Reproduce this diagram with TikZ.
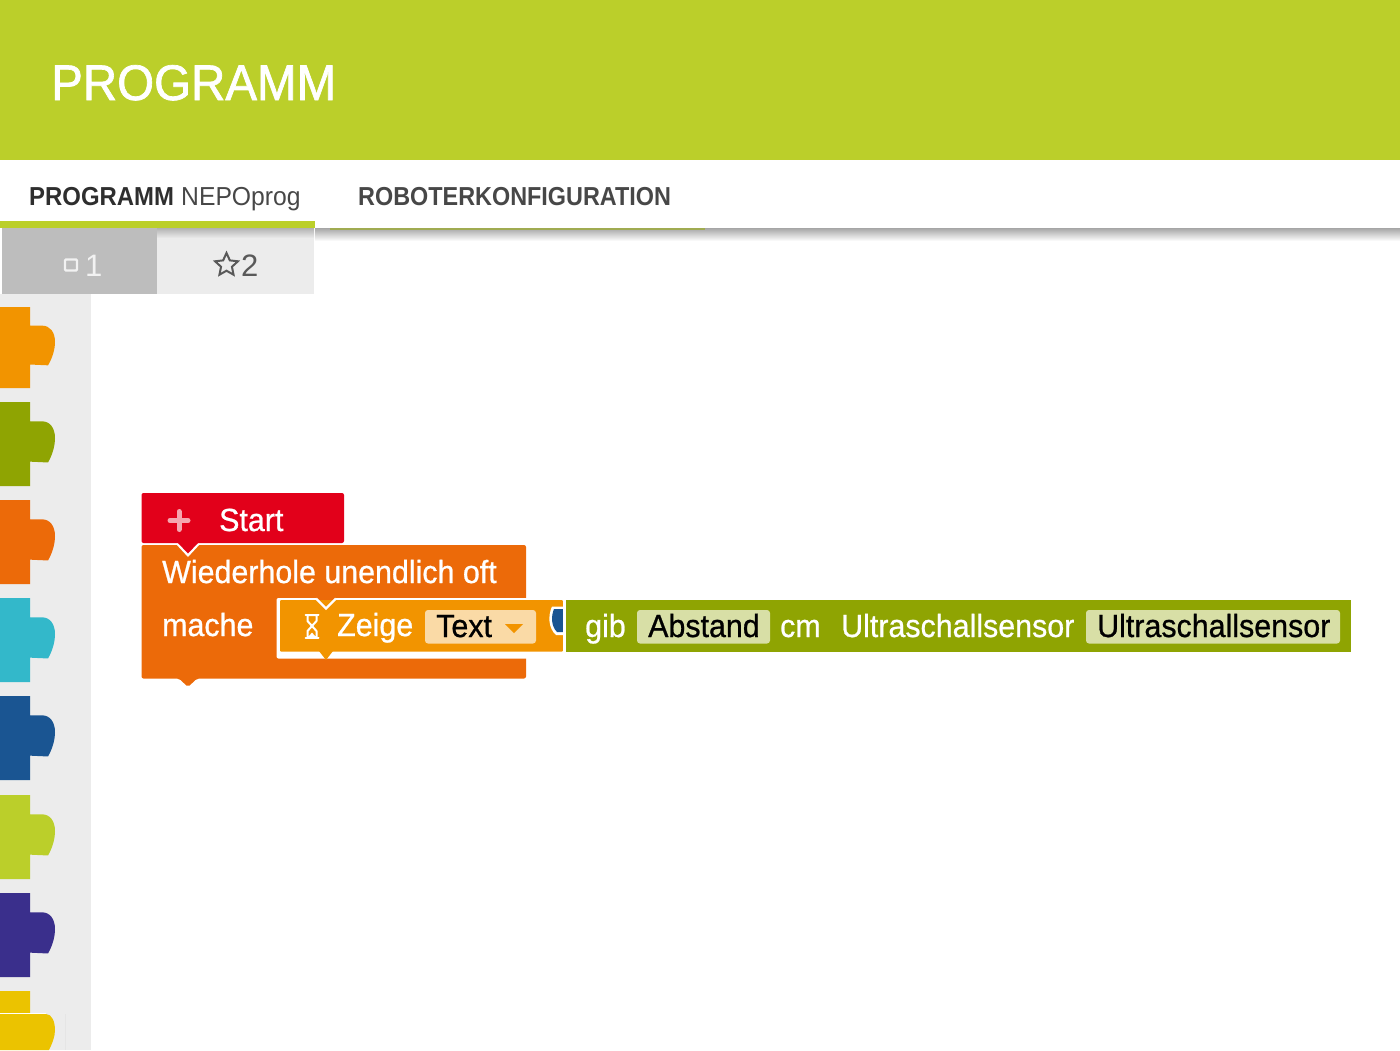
\documentclass[tikz,border=0pt]{standalone}
\usepackage{fontspec}
\setmainfont{Liberation Sans}
\newfontfamily\mediumfont[FakeBold=1.4]{Liberation Sans}
\newfontfamily\blockfont[FakeBold=0.8]{Liberation Sans}
\usetikzlibrary{shapes.geometric}

\definecolor{limegreen}{HTML}{BBCF2A}
\definecolor{blockred}{HTML}{E2001A}
\definecolor{blockorange}{HTML}{EC6A09}
\definecolor{blockamber}{HTML}{F29400}
\definecolor{blockolive}{HTML}{8FA402}
\definecolor{blockcyan}{HTML}{33B8CA}
\definecolor{blockblue}{HTML}{1A5592}
\definecolor{blockpurple}{HTML}{3A2F8C}
\definecolor{blockyellow}{HTML}{EBC300}
\definecolor{sidegrey}{HTML}{ECECEC}

\tikzset{
  label/.style={anchor=base west,inner sep=0pt,text=white,xscale=0.95,font=\blockfont\fontsize{32}{32}\selectfont},
  field/.style={fill=#1,rounded corners=3pt,draw=none},
  tabtext/.style={anchor=base west,inner sep=0pt,font=\fontsize{26}{26}\selectfont},
}

\begin{document}
\begin{tikzpicture}[x=1pt,y=-1pt]
  \useasboundingbox (0,0) rectangle (1400,1050);

  % Header
  \fill[limegreen] (0,0) rectangle (1400,160);
  \node[anchor=base west,inner sep=0pt,text=white,xscale=0.95,font=\mediumfont\fontsize{50}{50}\selectfont] (title) at (51,100) {PROGRAMM};

  % Tabs
  \shade[top color=black!35,bottom color=white] (315,228) rectangle (1400,241);
  \fill[limegreen!55!gray] (330,228) rectangle (705,229.5);
  \fill[limegreen] (0,221) rectangle (315,228);
  \node[tabtext,text=black!82,xscale=0.92] (tabprog) at (29,205.5) {\textbf{PROGRAMM}};
  \node[tabtext,text=black!72,xscale=0.95] (tabnepo) at (181,205.5) {NEPOprog};
  \node[tabtext,text=black!72,xscale=0.9] (tabrobot) at (358,205.5) {\textbf{ROBOTERKONFIGURATION}};

  % Sidebar
  \fill[sidegrey] (0,294) rectangle (91,1050);
  \fill[black!26] (2,228) rectangle (157,294);
  \fill[sidegrey] (157,228) rectangle (314,294);
  \shade[top color=black!30,bottom color=sidegrey] (157,228) rectangle (314,238);
  \draw[white!95!black,line width=2.4pt,rounded corners=1pt] (65,259.5) rectangle (77,270.5);
  \node[anchor=base west,inner sep=0pt,text=white!95!black,font=\fontsize{31}{31}\selectfont] (numone) at (85,276) {1};
  \node[star,star points=5,star point ratio=2.1,draw=black!65,line width=2pt,minimum size=24pt,inner sep=0pt] (staricon) at (226.5,265) {};
  \node[anchor=base west,inner sep=0pt,text=black!65,font=\fontsize{31}{31}\selectfont] (numtwo) at (241,276) {2};

  % Puzzle pieces
  \foreach \top/\tall/\col in {307/81/blockamber,402/84/blockolive,500/84/blockorange,598/84/blockcyan,696/84/blockblue,795/84/limegreen,893/84/blockpurple}{
    \fill[\col] (0,\top) -- (30,\top) -- (30,\top+\tall*0.23) -- (42,\top+\tall*0.23)
      .. controls (50,\top+\tall*0.23) and (55,\top+\tall*0.31) .. (55,\top+\tall*0.43)
      .. controls (55,\top+\tall*0.53) and (52,\top+\tall*0.64) .. (48,\top+\tall*0.72)
      -- (30,\top+\tall*0.71) -- (30,\top+\tall) -- (0,\top+\tall) -- cycle;
  }
  \fill[blockyellow] (0,991) -- (30,991) -- (30,1014) -- (46,1014)
    .. controls (52,1014) and (55,1022) .. (55,1030)
    .. controls (55,1037) and (52,1044) .. (49,1050) -- (0,1050) -- cycle;
  \draw[white,line width=0.8pt] (0,1013.5) -- (46,1013.5);
  \draw[white!90!black,line width=0.8pt] (65,1014) -- (65,1050);

  % Start block
  \fill[blockred,rounded corners=2pt] (141.5,543) -- (141.5,493) -- (344,493) -- (344,543) -- cycle;
  \draw[white!65!blockred,line width=5pt,line cap=round] (170,520.5) -- (188,520.5) (179,511.5) -- (179,529.5);
  \node[label] (start) at (219,531) {Start};

  % Loop block
  \fill[blockorange,rounded corners=2pt] (141.5,545) -- (526,545) -- (526,678.5) -- (197,678.5) -- (188,687) -- (179,678.5) -- (141.5,678.5) -- cycle;
  \fill[white] (176,544) -- (200,544) -- (188,557) -- cycle;
  \fill[blockred] (178,543) -- (198,543) -- (188,553.5) -- cycle;
  \node[label] (repeat) at (162,583) {Wiederhole unendlich oft};
  \node[label] (mache) at (162,636) {mache};

  % Show block
  \fill[white,rounded corners=2pt] (276.5,598) rectangle (563,658.5);
  \fill[blockamber,rounded corners=1pt] (280,600) -- (563,600) -- (563,651.5) -- (280,651.5) -- cycle;
  \fill[blockamber] (319,651) -- (333,651) -- (326,660) -- cycle;
  \fill[blockorange] (316,597) -- (336,597) -- (336,598) -- (326,608) -- (316,598) -- cycle;
  \fill[blockamber] (318,600) -- (334,600) -- (326,608) -- cycle;
  \draw[white,line width=2.2pt] (316,598.5) -- (326,608.5) -- (336,598.5);
  \draw[white,line width=2pt,line join=round] (307.5,615) -- (307.5,621) -- (312,626) -- (307.5,631) -- (307.5,637) -- (316.5,637) -- (316.5,631) -- (312,626) -- (316.5,621) -- (316.5,615) -- cycle;
  \draw[white,line width=2pt,line cap=round] (305.5,614.5) -- (318.5,614.5) (305.5,637.5) -- (318.5,637.5);
  \fill[white] (309,636) -- (312,632.5) -- (315,636) -- cycle;
  \node[label] (zeige) at (337,636) {Zeige};
  \fill[field=blockamber!35!white] (425,610) rectangle (536,643.5);
  \node[label,text=black] (textfield) at (436,637) {Text};
  \fill[blockamber] (505,624) -- (523,624) -- (514,633) -- cycle;

  % Plug
  \fill[white] (552,606.5) .. controls (548,615) and (548,628) .. (556,635) -- (564,635) -- (564,606.5) -- cycle;
  \fill[blockblue] (554,609) .. controls (551,616) and (551,626) .. (557,632) -- (564,632) -- (564,609) -- cycle;

  % Sensor block
  \fill[white] (563,599) rectangle (566,652.5);
  \fill[blockolive] (566,600) rectangle (1351,652);
  \node[label] (gib) at (585,637) {gib};
  \fill[field=blockolive!35!white] (637,610) rectangle (770,643.5);
  \node[label,text=black] (abstand) at (648,637) {Abstand};
  \node[label] (cm) at (780,637) {cm};
  \node[label] (sensorname) at (841,637) {Ultraschallsensor};
  \fill[field=blockolive!35!white] (1086,610) rectangle (1340,643.5);
  \node[label,text=black] (sensorfield) at (1097,637) {Ultraschallsensor};
\end{tikzpicture}
\end{document}
